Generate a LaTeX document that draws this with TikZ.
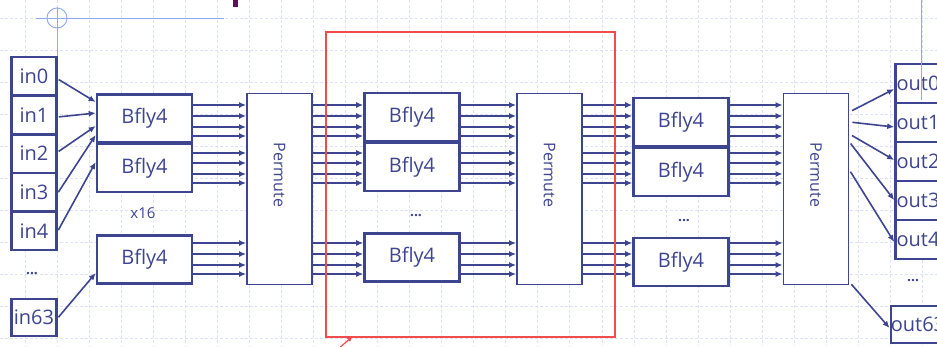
\documentclass[tikz,border=0pt]{standalone}
\usepackage{fontspec}
\setmainfont{Open Sans}
\definecolor{NavyLine}{HTML}{3D4591}
\definecolor{GridBlue}{HTML}{DCE2F6}
\definecolor{GuideBlue}{HTML}{90A8F0}
\definecolor{MarkRed}{HTML}{F24B4B}
\definecolor{PlumMark}{HTML}{5E1255}
\usetikzlibrary{positioning,arrows.meta}

\tikzset{
  portbox/.style={draw=NavyLine, line width=2.6pt, fill=white, text=NavyLine,
    inner sep=0pt, minimum width=45pt, font=\fontsize{20}{22}\selectfont},
  bflybox/.style={draw=NavyLine, line width=2.6pt, fill=white, text=NavyLine,
    inner sep=0pt, minimum width=95pt, minimum height=48pt, font=\fontsize{20}{22}\selectfont},
  permbox/.style={draw=NavyLine, line width=1.8pt, fill=white, inner sep=0pt,
    minimum width=65pt, minimum height=191pt},
  permlabel/.style={text=NavyLine, rotate=-90, font=\fontsize{16}{18}\selectfont},
  wire/.style={draw=NavyLine, line width=1.6pt, -{Latex[length=7pt,width=6pt]}},
  dotsmark/.style={text=NavyLine, font=\fontsize{14}{16}\selectfont\bfseries},
}

\begin{document}
\begin{tikzpicture}[x=1pt,y=-1pt]
  \useasboundingbox (0,0) rectangle (937,346);
  \clip (0,0) rectangle (937,346);
  \fill[white] (0,0) rectangle (937,346);
  %% background grid
  \foreach \gx in {0,...,28}
    \draw[GridBlue, line width=0.8pt, dash pattern=on 3pt off 2pt] (25+32.05*\gx,0) -- (25+32.05*\gx,346);
  \foreach \gy in {0,...,10}
    \draw[GridBlue, line width=0.8pt, dash pattern=on 3pt off 2pt] (0,18+32*\gy) -- (937,18+32*\gy);
  %% guide marks
  \draw[GuideBlue, line width=0.9pt] (57,18) circle (10);
  \draw[GuideBlue, line width=0.9pt] (36,18) -- (224,18);
  \draw[GuideBlue, line width=0.9pt] (57,7) -- (57,57);
  \fill[PlumMark] (233,0) rectangle (238,7);

  %% inputs
  \node[portbox, minimum height=38.6pt] (in0) at (34,76.3) {in0};
  \node[portbox, minimum height=38.6pt] (in1) at (34,114.9) {in1};
  \node[portbox, minimum height=38.6pt] (in2) at (34,153.5) {in2};
  \node[portbox, minimum height=38.6pt] (in3) at (34,192.1) {in3};
  \node[portbox, minimum height=38.6pt] (in4) at (34,230.7) {in4};
  \node[dotsmark] (indots) at (32,274) {...};
  \node[portbox, minimum height=37pt] (in63) at (34,317.5) {in63};

  %% first Bfly4 column
  \node[bflybox] (s1a) at (144.5,118.5) {Bfly4};
  \node[bflybox] (s1b) at (144.5,168) {Bfly4};
  \node[bflybox] (s1c) at (144.5,259.5) {Bfly4};
  \node[text=NavyLine, font=\fontsize{15}{17}\selectfont] (xsixteen) at (143,213) {x16};

  %% second Bfly4 column
  \node[bflybox] (s2a) at (412,117) {Bfly4};
  \node[bflybox] (s2b) at (412,167) {Bfly4};
  \node[dotsmark] (s2dots) at (416,216) {...};
  \node[bflybox] (s2c) at (412,257.5) {Bfly4};

  %% third Bfly4 column
  \node[bflybox] (s3a) at (681,122) {Bfly4};
  \node[bflybox] (s3b) at (681,172) {Bfly4};
  \node[dotsmark] (s3dots) at (684,221) {...};
  \node[bflybox] (s3c) at (681,262) {Bfly4};

  %% permute blocks
  \node[permbox] (p1) at (279.5,189) {};
  \node[permbox] (p2) at (549.5,189) {};
  \node[permbox] (p3) at (816,189) {};
  \node[yshift=14pt, permlabel] at (p1) {Permute};
  \node[yshift=14pt, permlabel] at (p2) {Permute};
  \node[yshift=14pt, permlabel] at (p3) {Permute};

  %% outputs
  \node[portbox, minimum height=39pt] (out0) at (918,83.5) {out0};
  \node[portbox, minimum height=39pt] (out1) at (918,122.5) {out1};
  \node[portbox, minimum height=39pt] (out2) at (918,161.5) {out2};
  \node[portbox, minimum height=39pt] (out3) at (918,200.5) {out3};
  \node[portbox, minimum height=39pt] (out4) at (918,239.5) {out4};
  \node[dotsmark] (outdots) at (913,281) {...};
  \node[portbox, minimum height=37pt] (out63) at (918,324.5) {out63};
  \draw[GuideBlue, line width=0.9pt] (921,0) -- (921,100);

  %% input wires
  \draw[wire, shorten <=1pt] (in0.east |- 0,79) -- (s1a.west |- 0,102);
  \draw[wire, shorten <=1pt] (in1.east |- 0,117) -- (s1a.west |- 0,113);
  \draw[wire, shorten <=1pt] (in2.east |- 0,152) -- (s1a.west |- 0,126);
  \draw[wire, shorten <=1pt] (in3.east |- 0,193) -- (s1a.west |- 0,135);
  \draw[wire, shorten <=1pt] (in4.east |- 0,231) -- (s1b.west |- 0,162);
  \draw[wire, shorten <=1pt] (in63.east |- 0,318) -- (s1c.west |- 0,273);

  %% lane wires between columns
  \foreach \ly in {105,116,127,136,153,163,174,183,243,254,265,274} {
    \draw[wire] (s1a.east |- 0,\ly) -- (p1.west |- 0,\ly);
    \draw[wire] (p1.east |- 0,\ly) -- (s2a.west |- 0,\ly);
    \draw[wire] (s2a.east |- 0,\ly) -- (p2.west |- 0,\ly);
    \draw[wire] (p2.east |- 0,\ly) -- (s3a.west |- 0,\ly);
    \draw[wire] (s3a.east |- 0,\ly) -- (p3.west |- 0,\ly);
  }

  %% output wires
  \draw[wire, shorten <=3pt] (p3.east |- 0,112) -- (out0.west |- 0,89);
  \draw[wire, shorten <=3pt] (p3.east |- 0,122) -- (out1.west |- 0,127);
  \draw[wire, shorten <=3pt] (p3.east |- 0,134) -- (out2.west |- 0,160);
  \draw[wire, shorten <=2pt] (p3.east |- 0,142) -- (out3.west |- 0,200);
  \draw[wire, shorten <=2pt] (p3.east |- 0,170) -- (out4.west |- 0,242);
  \draw[wire, shorten <=3pt] (p3.east |- 0,282) -- (out63.west |- 0,328);

  %% highlight frame
  \draw[MarkRed, line width=1.2pt] (326,32) rectangle (615,337);
  \coordinate (tailred) at (337,350);
  \draw[MarkRed, line width=1.2pt, -{Latex[length=6pt,width=5pt]}] (tailred) -- (353,336);
\end{tikzpicture}
\end{document}
